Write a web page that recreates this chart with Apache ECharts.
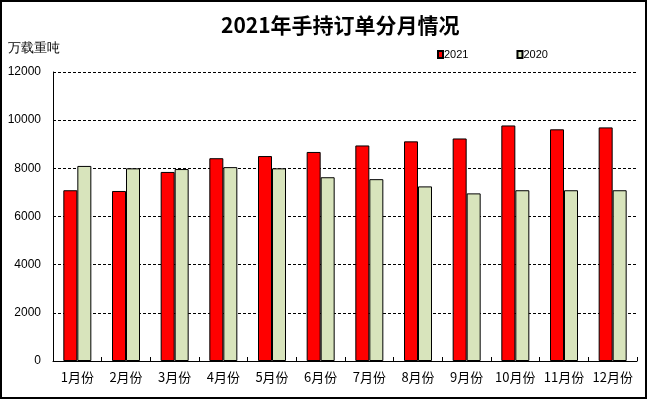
<!DOCTYPE html>
<html><head><meta charset="utf-8">
<script src="https://cdn.jsdelivr.net/npm/echarts@6/dist/echarts.min.js"></script>
<style>html,body{margin:0;padding:0;background:#fff}#c{width:647px;height:399px}</style>
</head><body><div id="c"></div>
<script>
const titleText = '2021年手持订单分月情况';
const unitName = '万载重吨';
const categories = ['1月份','2月份','3月份','4月份','5月份','6月份','7月份','8月份','9月份','10月份','11月份','12月份'];
const seriesNames = ['2021','2020'];
const values2021 = [7090,7060,7850,8420,8510,8680,8950,9120,9240,9780,9620,9700];
const values2020 = [8100,8000,7970,8050,8000,7630,7550,7250,6960,7090,7090,7090];
const yMin = 0, yMax = 12000, yInterval = 2000;

const chart = echarts.init(document.getElementById('c'), null, {renderer:'canvas'});
const cjk = '"Noto Sans CJK SC", "Liberation Sans", sans-serif';
chart.setOption({
  animation:false,
  backgroundColor:'#fff',
  title:{text:titleText, left:216, top:10,
    textStyle:{fontSize:21, fontWeight:'bold', color:'#000', fontFamily:cjk}},
  legend:{data:seriesNames, left:437, top:49, itemWidth:5, itemHeight:7, itemGap:48, padding:0,
    icon:'rect',
    textStyle:{fontSize:11, color:'#000', fontFamily:'"Liberation Sans", Arial, sans-serif', padding:[0,0,0,-4]}},
  graphic:[
    {type:'rect', shape:{x:1,y:1,width:645,height:397}, style:{fill:'none', stroke:'#000', lineWidth:2}, silent:true},
    {type:'text', left:8, top:42, style:{text:unitName, fontSize:13, fill:'#000', font:'13px "Noto Sans CJK SC", sans-serif'}}
  ],
  grid:{left:53, right:10, top:72, bottom:38, containLabel:false},
  xAxis:{type:'category', data:categories,
    axisLine:{lineStyle:{color:'#000', width:1}},
    axisTick:{show:true, inside:true, length:4, alignWithLabel:false, lineStyle:{color:'#000'}},
    axisLabel:{color:'#000', fontSize:13, margin:10, fontFamily:cjk, interval:0}},
  yAxis:{type:'value', min:yMin, max:yMax, interval:yInterval,
    axisLine:{show:true, lineStyle:{color:'#000', width:1}},
    axisTick:{show:false},
    axisLabel:{color:'#000', fontSize:12, margin:12, fontFamily:'"Liberation Sans", Arial, sans-serif',
      formatter:function(v){return String(v);}},
    splitLine:{show:true, lineStyle:{color:'#000', type:[3,2], width:1}}},
  series:[
    {name:seriesNames[0], type:'bar', data:values2021, barWidth:14, barGap:'0%',
      itemStyle:{color:'#FF0000', borderColor:'#000', borderWidth:1}},
    {name:seriesNames[1], type:'bar', data:values2020, barWidth:14, barGap:'0%',
      itemStyle:{color:'#D8E4BC', borderColor:'#000', borderWidth:1}}
  ]
});
</script></body></html>
